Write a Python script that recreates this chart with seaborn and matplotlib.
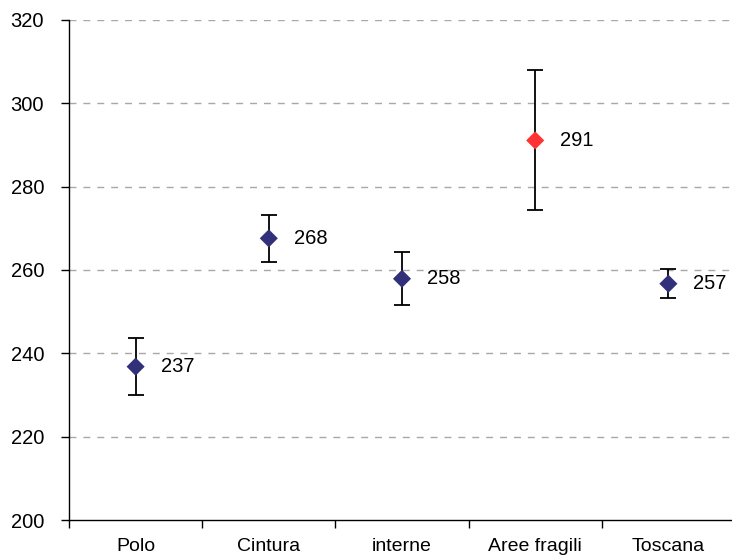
import numpy as np
import pandas as pd
import matplotlib
matplotlib.use("Agg")
import matplotlib.pyplot as plt
import seaborn as sns

# data
categories = ["Polo", "Cintura", "interne", "Aree fragili", "Toscana"]
values = [236.8, 267.6, 257.9, 291.1, 256.7]
errors = [6.8, 5.7, 6.4, 16.8, 3.5]
labels = ["237", "268", "258", "291", "257"]
groups = ["base", "base", "base", "fragile", "base"]

sns.set_style("white")
plt.rcParams['font.family'] = ['Liberation Sans', 'DejaVu Sans']
plt.rcParams['text.color'] = 'black'
plt.rcParams['xtick.color'] = 'black'
plt.rcParams['ytick.color'] = 'black'

df = pd.DataFrame({"pos": np.arange(len(categories)), "value": values,
                   "err": errors, "group": groups})

fig = plt.figure(figsize=(7.32, 5.59), dpi=100)
ax = fig.add_axes([69 / 732, 39 / 559, 666 / 732, 500 / 559])

# error bars
ax.errorbar(df["pos"], df["value"], yerr=df["err"], fmt="none",
            ecolor="black", elinewidth=1.3, capsize=6, capthick=1.3, zorder=2)

# diamond markers
sns.scatterplot(data=df, x="pos", y="value", hue="group",
                palette={"base": "#33307a", "fragile": "#ff3333"},
                marker="D", s=85, edgecolor="none", legend=False, ax=ax, zorder=3)

for x, y, t in zip(df["pos"], df["value"], labels):
    ax.annotate(t, (x, y), xytext=(18, 0), textcoords="offset points",
                va="center", ha="left", fontsize=14.5)

ax.set_ylim(200, 320)
ax.set_yticks(np.arange(200, 321, 20))
ax.set_xlim(-0.5, len(categories) - 0.5)
ax.set_xticks(np.arange(len(categories)))
ax.set_xticklabels(categories)
ax.set_xticks(np.arange(len(categories) + 1) - 0.5, minor=True)
ax.tick_params(axis="x", which="major", length=0, pad=13, labelsize=14)
ax.tick_params(axis="x", which="minor", length=6, width=1, color="black",
               direction="out", bottom=True)
ax.tick_params(axis="y", length=6, width=1, color="black", direction="out",
               left=True, labelsize=14.5, pad=12)

for yv in range(220, 321, 20):
    ax.axhline(yv, color="#a8a8a8", linestyle=(0, (5, 5)), linewidth=1, zorder=1)

ax.set_xlabel("")
ax.set_ylabel("")
for s in ["top", "right"]:
    ax.spines[s].set_visible(False)
for s in ["left", "bottom"]:
    ax.spines[s].set_color("black")
    ax.spines[s].set_linewidth(1)

fig.savefig("out.png", dpi=100)
